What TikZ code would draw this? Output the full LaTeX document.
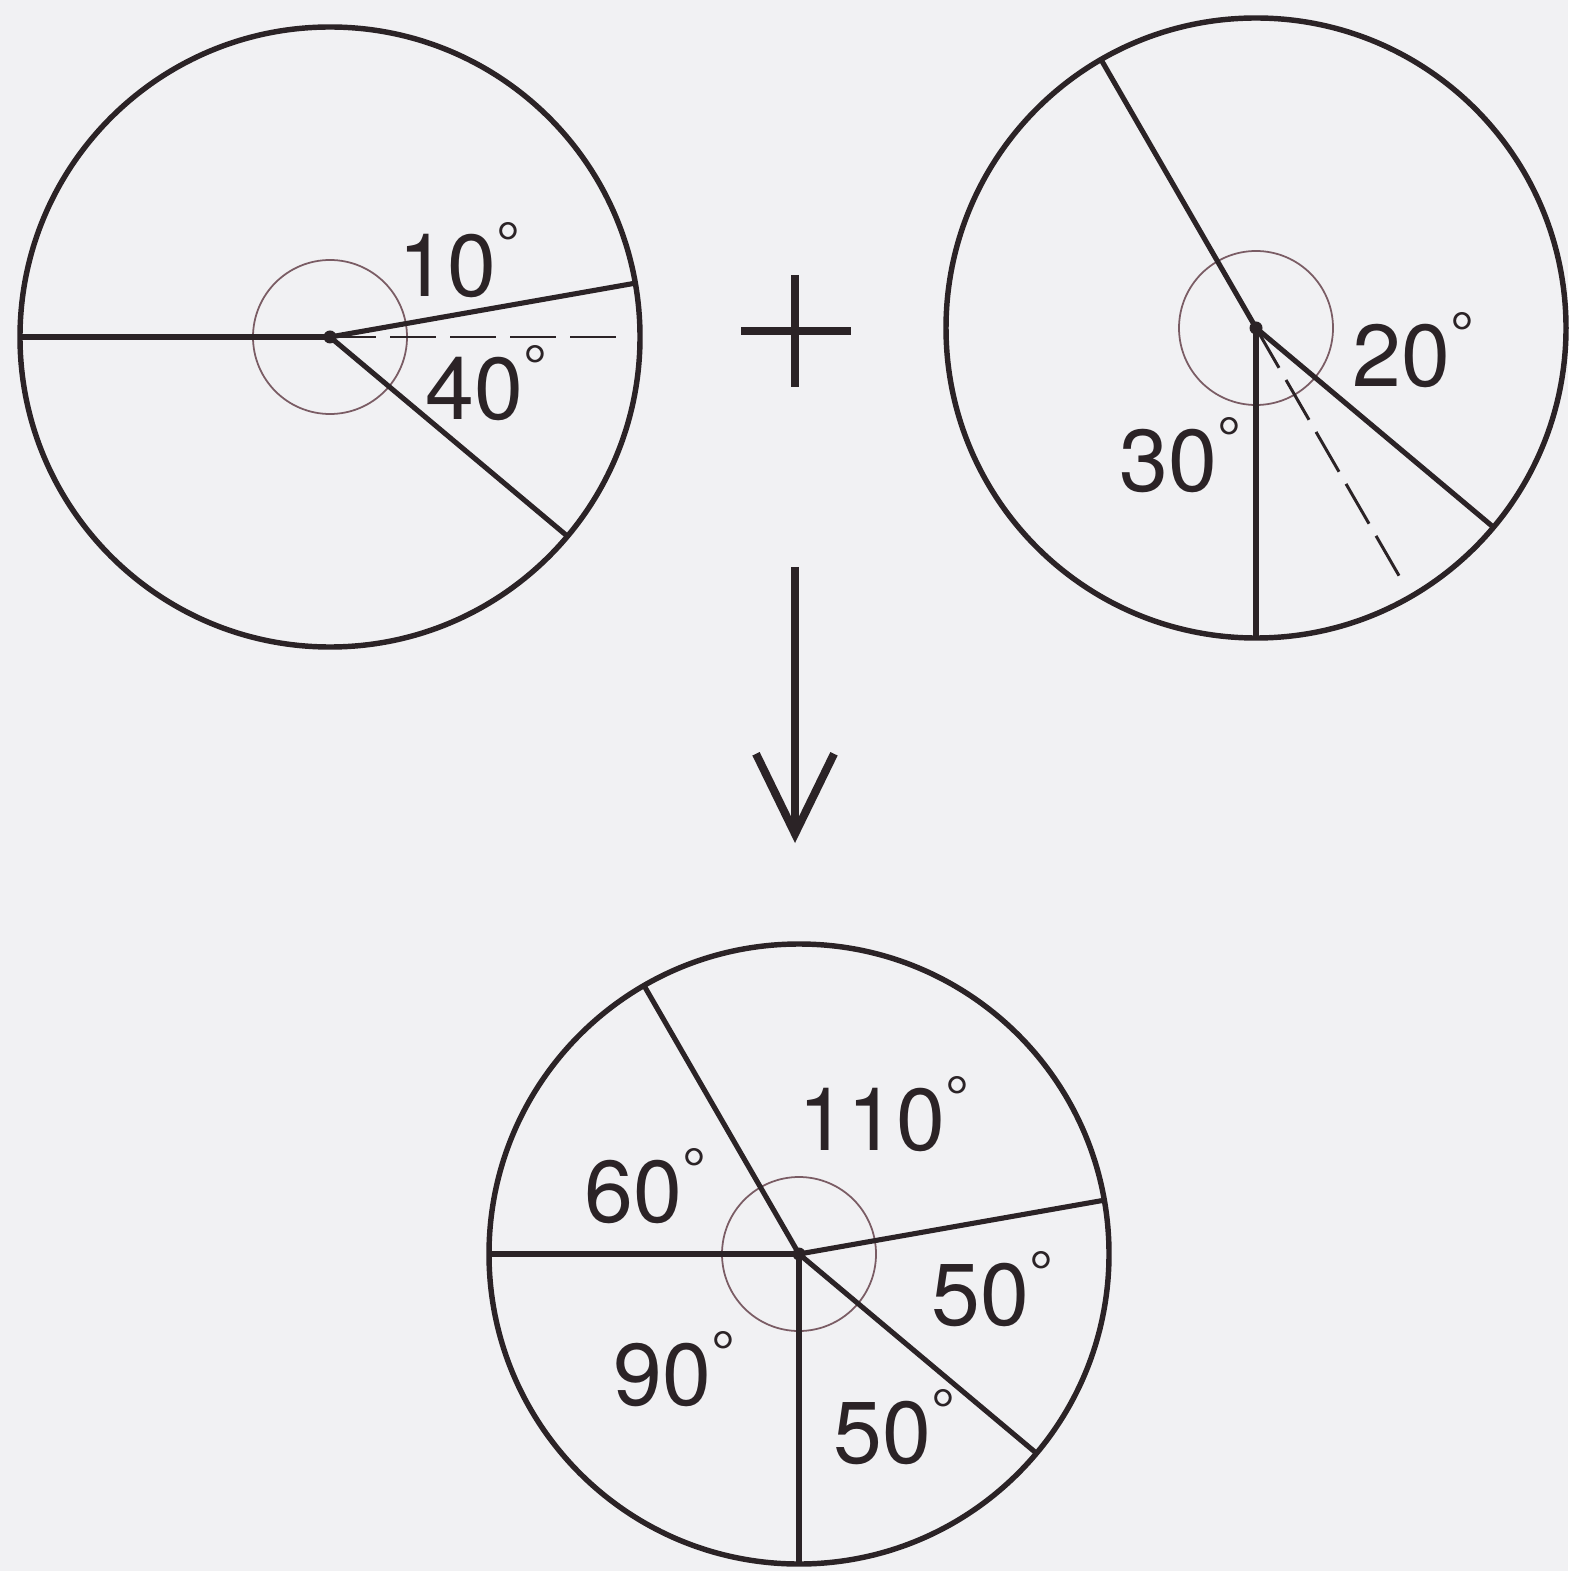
\documentclass[tikz,border=0pt]{standalone}
\usepackage{fontspec}
\setmainfont{TeX Gyre Heros}
\usepackage{xcolor}
\usepackage{tikz}
\usetikzlibrary{arrows.meta}
\definecolor{cInk}{RGB}{43,35,38}
\definecolor{cHub}{RGB}{122,92,100}
\definecolor{cPaper}{RGB}{241,241,243}
\newcommand{\angdeg}[1]{#1\raisebox{0.32cm}{\fontsize{17}{17}\selectfont °}}
\tikzset{
	disc/.style     ={draw=cInk, line width=1.55pt},
	spoke/.style    ={draw=cInk, line width=1.45pt},
	guide/.style    ={draw=cInk, line width=0.85pt, dash pattern=on 0.46cm off 0.14cm},
	hub/.style      ={draw=cHub, line width=0.5pt},
	pivot/.style    ={fill=cInk},
	lbl/.style      ={anchor=base west, inner sep=0pt, text=cInk, font=\fontsize{25}{30}\selectfont},
	sign/.style     ={draw=cInk, line width=2.3pt},
	flowarrow/.style={-{Straight Barb[length=0.8cm, width=0.78cm]}, draw=cInk, line width=2.3pt},
}
\begin{document}
\begin{tikzpicture}
	\fill[cPaper] (0,0) rectangle (15.68,-15.71);
	\useasboundingbox (0,0) rectangle (15.68,-15.71);
	% first disc: 10 and 40 around the horizontal
	\coordinate (cA) at (3.30,-3.37);
	\draw[disc] (cA) circle (3.10);
	\draw[hub] (cA) circle (0.77);
	\foreach \a in {180, 10, -40} \draw[spoke] (cA) -- ++(\a:3.10);
	\draw[guide] (cA) -- ++(0:2.95);
	\fill[pivot] (cA) circle (0.065);
	\node[lbl] (tA1) at (3.98,-2.97) {\angdeg{10}};
	\node[lbl] (tA2) at (4.25,-4.20) {\angdeg{40}};
	% plus
	\draw[sign] (7.41,-3.31) -- (8.51,-3.31);
	\draw[sign] (7.95,-2.75) -- (7.95,-3.87);
	% second disc: 30 and 20
	\coordinate (cB) at (12.56,-3.28);
	\draw[disc] (cB) circle (3.10);
	\draw[hub] (cB) circle (0.77);
	\foreach \a in {120, -90, -40} \draw[spoke] (cB) -- ++(\a:3.10);
	\draw[guide] (cB) -- ++(-60:2.97);
	\fill[pivot] (cB) circle (0.065);
	\node[lbl] (tB1) at (13.52,-3.87) {\angdeg{20}};
	\node[lbl] (tB2) at (11.19,-4.92) {\angdeg{30}};
	% arrow down to the sum
	\coordinate (arrTop) at (7.95,-5.67);
	\coordinate (arrTip) at (7.95,-8.43);
	\draw[flowarrow] (arrTop) -- (arrTip);
	% resulting disc
	\coordinate (cC) at (7.99,-12.54);
	\draw[disc] (cC) circle (3.10);
	\draw[hub] (cC) circle (0.77);
	\foreach \a in {180, 120, 10, -40, -90} \draw[spoke] (cC) -- ++(\a:3.10);
	\fill[pivot] (cC) circle (0.065);
	\node[lbl] (tC1) at (7.98,-11.50) {\angdeg{110}};
	\node[lbl] (tC2) at (5.84,-12.22) {\angdeg{60}};
	\node[lbl] (tC3) at (9.31,-13.25) {\angdeg{50}};
	\node[lbl] (tC4) at (6.13,-14.05) {\angdeg{90}};
	\node[lbl] (tC5) at (8.33,-14.63) {\angdeg{50}};
\end{tikzpicture}
\end{document}
